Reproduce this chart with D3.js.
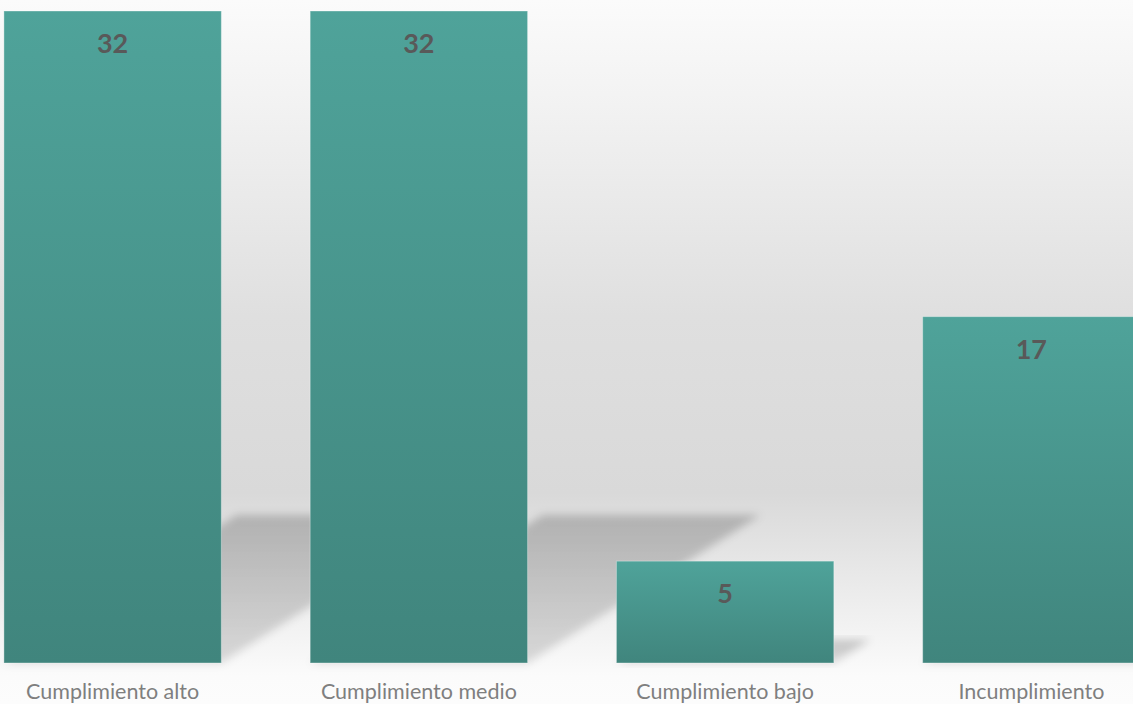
<!DOCTYPE html>
<html>
<head>
<meta charset="utf-8">
<script src="https://cdnjs.cloudflare.com/ajax/libs/d3/7.8.5/d3.min.js"></script>
<style>
  html, body { margin: 0; padding: 0; background: #fff; }
  svg { display: block; }
</style>
</head>
<body>
<script>
'use strict';

// 数据
const categories = ['Cumplimiento alto', 'Cumplimiento medio', 'Cumplimiento bajo', 'Incumplimiento'];
const values = [32, 32, 5, 17];

const width = 1133, height = 704;
const baseY = 663, topY = 11;

const svg = d3.select('body').append('svg')
  .attr('width', width)
  .attr('height', height);

const defs = svg.append('defs');

// 背景渐变
const bg = defs.append('linearGradient')
  .attr('id', 'bg')
  .attr('x1', 0).attr('y1', 0).attr('x2', 0).attr('y2', 1);
[[0, '#fbfbfb'], [0.15, '#f2f2f2'], [0.45, '#dfdfdf'], [0.7, '#d9d9d9'], [0.86, '#eeeeee'], [0.96, '#fbfbfb'], [1, '#fcfcfc']]
  .forEach(s => bg.append('stop').attr('offset', s[0]).attr('stop-color', s[1]));

// 柱子渐变
const barGrad = defs.append('linearGradient')
  .attr('id', 'barGrad')
  .attr('x1', 0).attr('y1', 0).attr('x2', 0).attr('y2', 1);
barGrad.append('stop').attr('offset', 0).attr('stop-color', '#4fa39a');
barGrad.append('stop').attr('offset', 1).attr('stop-color', '#40857d');

// 阴影
const shadowGrad = defs.append('linearGradient')
  .attr('id', 'shadowGrad')
  .attr('x1', 0).attr('y1', 0).attr('x2', 0).attr('y2', 1);
shadowGrad.append('stop').attr('offset', 0).attr('stop-color', '#000').attr('stop-opacity', 0.2);
shadowGrad.append('stop').attr('offset', 1).attr('stop-color', '#000').attr('stop-opacity', 0.13);

defs.append('filter')
  .attr('id', 'blur')
  .attr('x', '-20%').attr('y', '-20%').attr('width', '140%').attr('height', '140%')
  .append('feGaussianBlur')
  .attr('stdDeviation', 4);

svg.append('rect')
  .attr('width', width)
  .attr('height', height)
  .attr('fill', 'url(#bg)');

// 比例尺
const x = d3.scaleBand()
  .domain(categories)
  .range([-40.5, 1184.5])
  .paddingInner(0.29)
  .paddingOuter(0.145);

const y = d3.scaleLinear()
  .domain([0, 32])
  .range([baseY, topY]);

// 阴影多边形
svg.append('g')
  .selectAll('polygon')
  .data(values)
  .enter()
  .append('polygon')
  .attr('points', (d, i) => {
    const x0 = x(categories[i]), x1 = x0 + x.bandwidth();
    const h = y(0) - y(d);
    const dx = 0.357 * h, dy = 0.227 * h;
    return [[x0, y(0)], [x1, y(0)], [x1 + dx, y(0) - dy], [x0 + dx, y(0) - dy]].join(' ');
  })
  .attr('fill', 'url(#shadowGrad)')
  .attr('filter', 'url(#blur)');

// 柱子
svg.append('g')
  .selectAll('rect')
  .data(values)
  .enter()
  .append('rect')
  .attr('x', (d, i) => x(categories[i]))
  .attr('y', d => y(d))
  .attr('width', x.bandwidth())
  .attr('height', d => y(0) - y(d))
  .attr('fill', 'url(#barGrad)')
  .attr('stroke', '#ffffff')
  .attr('stroke-opacity', 0.35)
  .attr('stroke-width', 1);

// 数值标签
svg.append('g')
  .selectAll('text')
  .data(values)
  .enter()
  .append('text')
  .attr('x', (d, i) => x(categories[i]) + x.bandwidth() / 2)
  .attr('y', d => y(d) + 42)
  .attr('text-anchor', 'middle')
  .attr('font-family', 'Lato, "Open Sans", sans-serif')
  .attr('font-weight', 'bold')
  .attr('font-size', 27)
  .attr('fill', '#595959')
  .text(d => d);

// 类别标签
svg.append('g')
  .selectAll('text')
  .data(categories)
  .enter()
  .append('text')
  .attr('x', d => x(d) + x.bandwidth() / 2)
  .attr('y', 699)
  .attr('text-anchor', 'middle')
  .attr('font-family', 'Lato, "Open Sans", sans-serif')
  .attr('font-size', 21.5)
  .attr('fill', '#7f7f7f')
  .text(d => d);
</script>
</body>
</html>
